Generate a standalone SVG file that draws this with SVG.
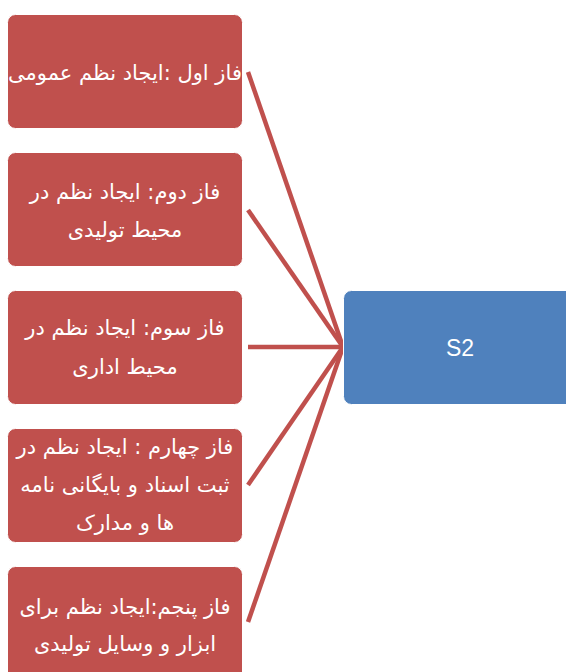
<svg xmlns="http://www.w3.org/2000/svg" width="566" height="672" viewBox="0 0 566 672">
<style>
.red{fill:#C0504D;stroke:#ffffff;stroke-width:1}
.blue{fill:#4F81BD;stroke:#ffffff;stroke-width:1}
.t{font-family:"DejaVu Sans",sans-serif;font-size:21px;fill:#ffffff;text-anchor:middle;direction:rtl}
.s{font-family:"Liberation Sans",sans-serif;font-size:23px;fill:#ffffff;text-anchor:middle}
.c{stroke:#C0504D;stroke-width:4.5;fill:none}
</style>
<rect width="566" height="672" fill="#ffffff"/>
<g id="connectors">
<line class="c" x1="248" y1="72" x2="343" y2="347"/>
<line class="c" x1="248" y1="210" x2="343" y2="347"/>
<line class="c" x1="248" y1="347" x2="343" y2="347"/>
<line class="c" x1="248" y1="485" x2="343" y2="347"/>
<line class="c" x1="248" y1="622" x2="343" y2="347"/>
</g>
<g id="phase1">
<rect class="red" x="7.5" y="14.5" width="235" height="114" rx="8"/>
<text class="t" x="125" y="80">فاز اول :ایجاد نظم عمومی</text>
</g>
<g id="phase2">
<rect class="red" x="7.5" y="152.5" width="235" height="114" rx="8"/>
<text class="t" x="125" y="199">فاز دوم: ایجاد نظم در</text>
<text class="t" x="125" y="237">محیط تولیدی</text>
</g>
<g id="phase3">
<rect class="red" x="7.5" y="290.5" width="235" height="114" rx="8"/>
<text class="t" x="125" y="335">فاز سوم: ایجاد نظم در</text>
<text class="t" x="125" y="374">محیط اداری</text>
</g>
<g id="phase4">
<rect class="red" x="7.5" y="428.5" width="235" height="114" rx="8"/>
<text class="t" x="125" y="454">فاز چهارم : ایجاد نظم در</text>
<text class="t" x="125" y="492">ثبت اسناد و بایگانی نامه</text>
<text class="t" x="125" y="530">ها و مدارک</text>
</g>
<g id="phase5">
<rect class="red" x="7.5" y="566.5" width="235" height="114" rx="8"/>
<text class="t" x="125" y="614">فاز پنجم:ایجاد نظم برای</text>
<text class="t" x="125" y="651">ابزار و وسایل تولیدی</text>
</g>
<g id="s2">
<rect class="blue" x="343.5" y="290.5" width="235" height="114" rx="8"/>
<text class="s" x="460" y="356">S2</text>
</g>
</svg>
